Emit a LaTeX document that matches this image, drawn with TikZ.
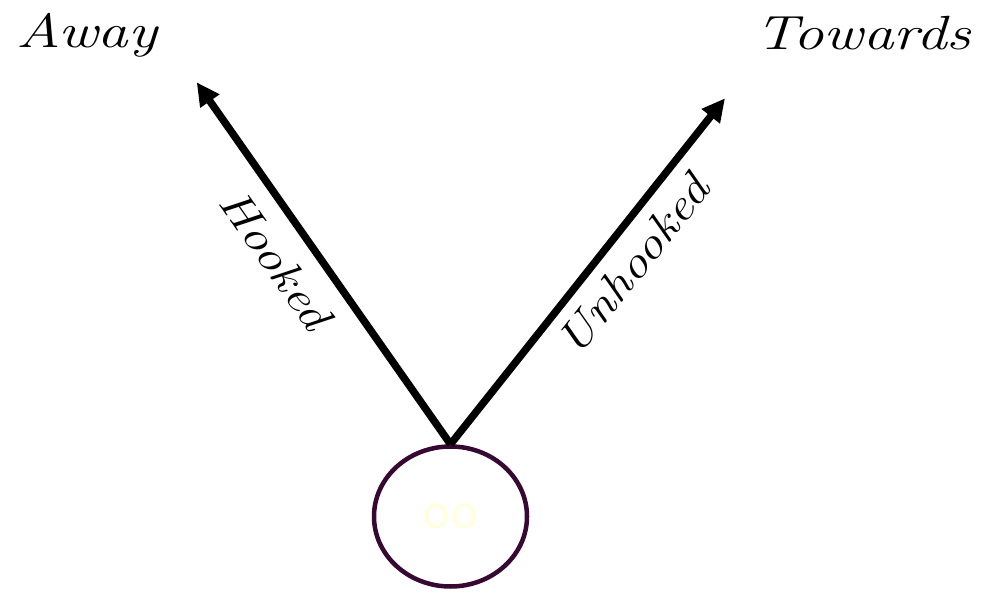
\documentclass[tikz,border=0pt]{standalone}
\usepackage{fontspec}
\usetikzlibrary{arrows.meta, shapes.geometric}

\definecolor{ringpurple}{RGB}{55,8,50}
\definecolor{paleyellow}{RGB}{255,255,222}

\begin{document}
\begin{tikzpicture}[
    x=1pt, y=1pt,
    >={Triangle[length=23pt, width=22pt]},
    choice/.style={font=\fontsize{48}{52}\selectfont\itshape, xscale=1.27, transform shape, anchor=base},
    pathlabel/.style={font=\fontsize{44}{48}\selectfont\itshape, xscale=1.2, transform shape},
    line width=7.5pt
]
\useasboundingbox (0,0) rectangle (988,592);

% --- Nodes ---
\node (start) [ellipse, draw=ringpurple, line width=4.5pt, minimum width=153pt, minimum height=140pt, inner sep=0pt,
    font=\sffamily\fontsize{56}{60}\selectfont, text=paleyellow] at (450.5,75.5) {oo};
\coordinate (awaytip) at (196.7,509.7);
\coordinate (towardstip) at (725,493.7);
\node (away) [choice] at (87,544) {Away};
\node (towards) [choice] at (863,542) {Towards};

% --- Edges with labels ---
\draw[->] (start.north) -- node[pos=0.57, sloped, below=14pt, pathlabel] {Hooked} (awaytip);
\draw[->] (start.north) -- node[pos=0.575, sloped, below=9pt, pathlabel] {Unhooked} (towardstip);

\end{tikzpicture}
\end{document}
